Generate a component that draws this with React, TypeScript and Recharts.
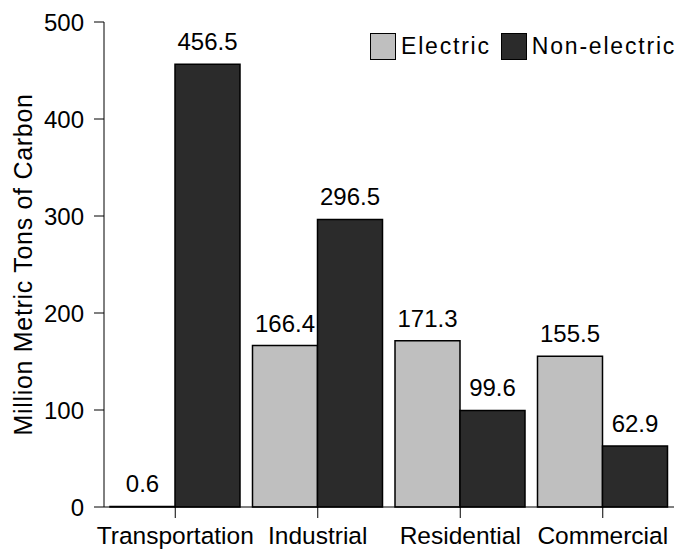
import React from "react"
import { Bar, BarChart, XAxis, YAxis, Legend, LabelList, Label } from "recharts"

// sectors and emissions (million metric tons of carbon)
const sectors = ["Transportation", "Industrial", "Residential", "Commercial"]
const electric = [0.6, 166.4, 171.3, 155.5]
const nonElectric = [456.5, 296.5, 99.6, 62.9]
const yTicks = [0, 100, 200, 300, 400, 500]

const data = sectors.map((name, i) => ({
    name,
    electric: electric[i],
    nonElectric: nonElectric[i],
}))

const FONT = "'Liberation Sans', Arial, sans-serif"
const LIGHT = "#bfbfbf"
const DARK = "#2b2b2b"

function LegendBox() {
    const items = [
        { label: "Electric", color: LIGHT },
        { label: "Non-electric", color: DARK },
    ]
    return (
        <div style={{ display: "flex", alignItems: "center", fontFamily: FONT, fontSize: 23, letterSpacing: 1.8, color: "#000", whiteSpace: "nowrap" }}>
            {items.map((it, i) => (
                <div key={it.label} style={{ display: "flex", alignItems: "center", marginLeft: i ? 10 : 0 }}>
                    <span style={{ boxSizing: "border-box", flexShrink: 0, width: 26, height: 27, background: it.color, border: "1.5px solid #000", display: "inline-block", marginRight: 5 }} />
                    <span>{it.label}</span>
                </div>
            ))}
        </div>
    )
}

export default function App() {
    return (
        <div style={{ position: "absolute", left: 0, top: 0, width: 682, height: 551, background: "#fff" }}>
            <BarChart
                width={682}
                height={551}
                data={data}
                margin={{ top: 22, right: 8, left: 0, bottom: 0 }}
                barCategoryGap={6}
                barGap={0}
            >
                <XAxis
                    dataKey="name"
                    height={44}
                    tickSize={11}
                    tickMargin={9}
                    stroke="#000"
                    tick={{ fill: "#000", fontSize: 24.5, fontFamily: FONT }}
                    interval={0}
                />
                <YAxis
                    width={104}
                    domain={[0, 500]}
                    ticks={yTicks}
                    tickSize={10}
                    tickMargin={10}
                    stroke="#000"
                    tick={{ fill: "#000", fontSize: 24, fontFamily: FONT }}
                >
                    <Label
                        content={({ viewBox }: any) => {
                            const cx = viewBox.x + 32
                            const cy = viewBox.y + viewBox.height / 2
                            return (
                                <text
                                    x={cx}
                                    y={cy}
                                    transform={`rotate(-90 ${cx} ${cy})`}
                                    textAnchor="middle"
                                    fontSize={25}
                                    letterSpacing={0.7}
                                    fontFamily={FONT}
                                    fill="#000"
                                >
                                    Million Metric Tons of Carbon
                                </text>
                            )
                        }}
                    />
                </YAxis>
                <Legend
                    layout="vertical"
                    align="center"
                    verticalAlign="middle"
                    wrapperStyle={{ top: 33, left: 370, width: 320, height: 30 }}
                    content={() => <LegendBox />}
                />
                <Bar dataKey="electric" name="Electric" fill={LIGHT} stroke="#000" strokeWidth={1.5} isAnimationActive={false}>
                    <LabelList dataKey="electric" position="top" offset={14} fill="#000" fontSize={24} fontFamily={FONT} />
                </Bar>
                <Bar dataKey="nonElectric" name="Non-electric" fill={DARK} stroke="#000" strokeWidth={1.5} isAnimationActive={false}>
                    <LabelList dataKey="nonElectric" position="top" offset={14} fill="#000" fontSize={24} fontFamily={FONT} />
                </Bar>
            </BarChart>
        </div>
    )
}
